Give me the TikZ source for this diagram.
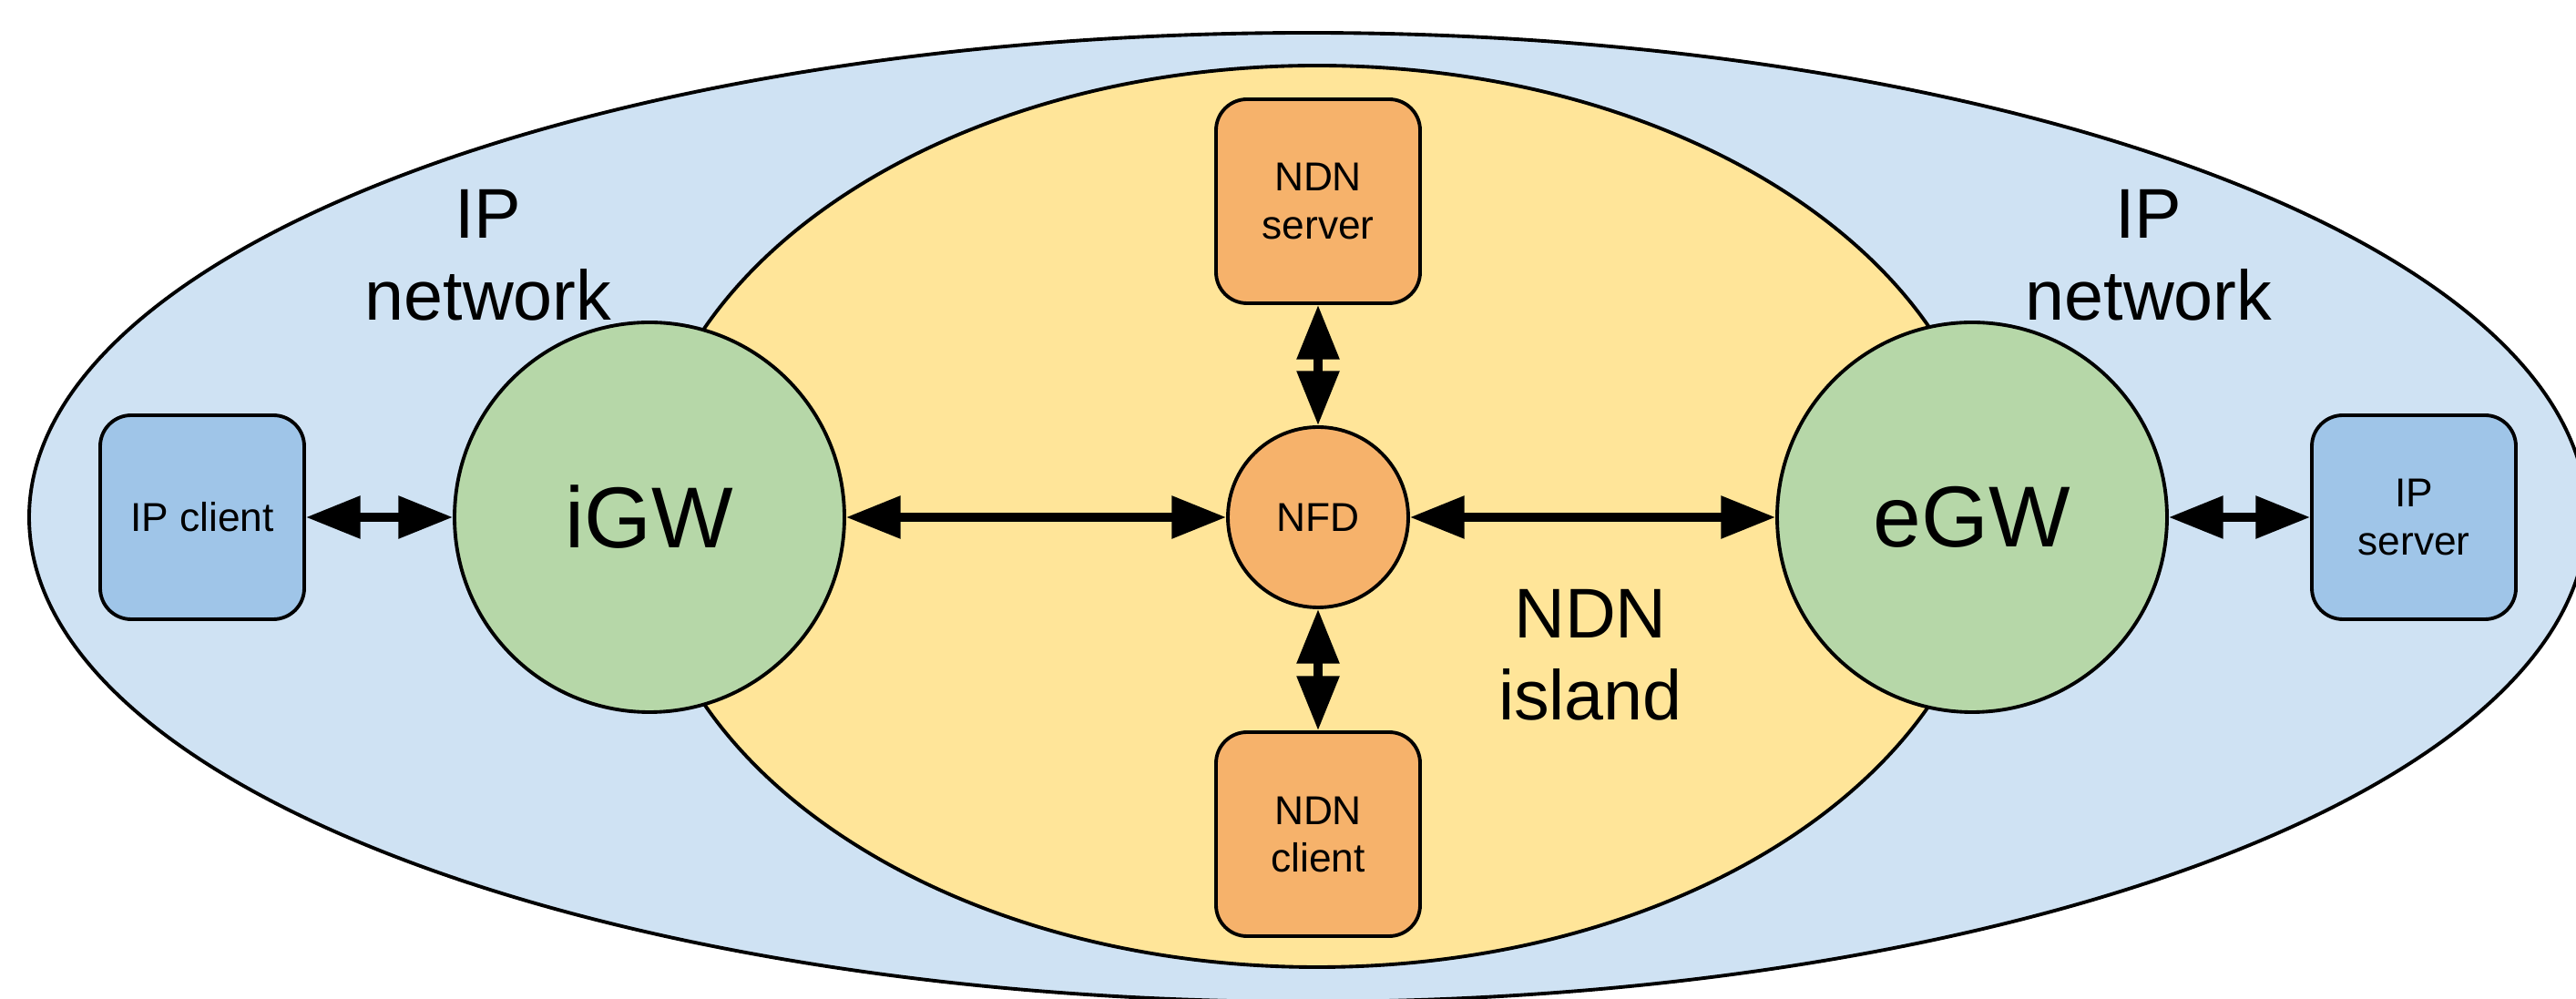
\documentclass[tikz,border=0pt]{standalone}
\usepackage{fontspec}
\setmainfont{Liberation Sans}
\usetikzlibrary{arrows.meta}
\definecolor{ipblue}{HTML}{CFE2F3}
\definecolor{hostblue}{HTML}{9FC5E8}
\definecolor{ndnyellow}{HTML}{FFE599}
\definecolor{gwgreen}{HTML}{B6D7A8}
\definecolor{ndnorange}{HTML}{F6B26B}
\tikzset{outline/.style = {draw = black, line width = 1.1pt}}
\tikzset{gw/.style = {outline, circle, fill = gwgreen, minimum size = 4.28cm, inner sep = 0pt, font = \fontsize{27}{30}\selectfont}}
\tikzset{host/.style = {outline, rounded corners = 0.34cm, minimum width = 2.24cm, minimum height = 2.24cm, inner sep = 0pt, align = center, font = \fontsize{12.6}{14.8}\selectfont}}
\tikzset{link/.style = {{Triangle[length=17pt, width=12.8pt]}-{Triangle[length=17pt, width=12.8pt]}, line width = 2.6pt}}
\tikzset{zone/.style = {align = center, font = \fontsize{22}{25.6}\selectfont}}

\begin{document}
\begin{tikzpicture}
\useasboundingbox (0,0) rectangle (28.28,10.97);
\clip (0,0) rectangle (28.28,10.97);
\draw [outline, fill = ipblue] (14.36,5.29) ellipse [x radius = 14.04, y radius = 5.32];
\draw [outline, fill = ndnyellow] (14.46,5.30) ellipse [x radius = 7.40, y radius = 4.95];
\node [zone] (ipleft) at (5.36,8.17) {IP\\network};
\node [zone] (ipright) at (23.59,8.17) {IP\\network};
\node [zone] (island) at (17.46,3.78) {NDN\\island};
\node [gw] (igw) at (7.13,5.29) {iGW};
\node [gw] (egw) at (21.65,5.29) {eGW};
\node [outline, circle, fill = ndnorange, minimum size = 1.98cm, inner sep = 0pt, font = \fontsize{12.6}{14.8}\selectfont] (nfd) at (14.47,5.29) {NFD};
\node [host, fill = hostblue] (ipclient) at (2.22,5.29) {IP client};
\node [host, fill = hostblue] (ipserver) at (26.50,5.29) {IP\\server};
\node [host, fill = ndnorange] (ndnserver) at (14.47,8.76) {NDN\\server};
\node [host, fill = ndnorange] (ndnclient) at (14.47,1.81) {NDN\\client};
\draw [link] (ipclient) -- (igw);
\draw [link] (igw) -- (nfd);
\draw [link] (nfd) -- (egw);
\draw [link] (egw) -- (ipserver);
\draw [link] (ndnserver) -- (nfd);
\draw [link] (nfd) -- (ndnclient);
\end{tikzpicture}
\end{document}
